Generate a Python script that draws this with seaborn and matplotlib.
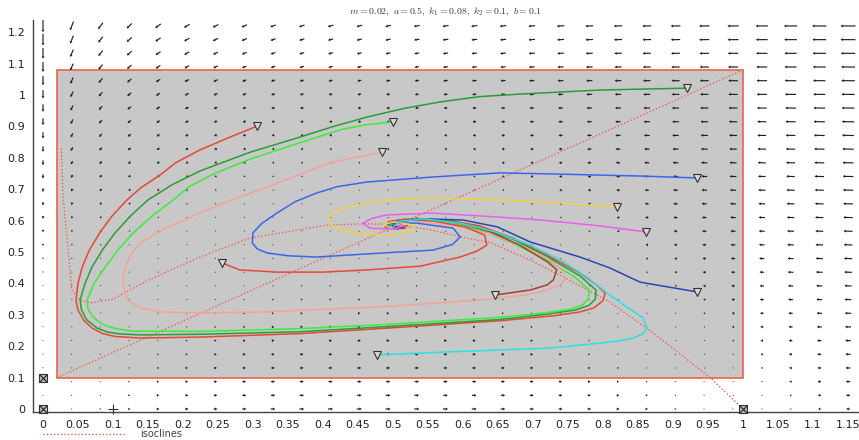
import numpy as np
import pandas as pd
import matplotlib
matplotlib.use('Agg')
import matplotlib.pyplot as plt
from matplotlib.patches import Rectangle
from matplotlib.lines import Line2D
from matplotlib.ticker import MultipleLocator, FormatStrFormatter
import seaborn as sns

sns.set_style('white')
plt.rcParams['font.family'] = ['DejaVu Sans']
plt.rcParams['mathtext.fontset'] = 'cm'

# 模型参数 (标题)
m, a, k1, k2, b = 0.02, 0.5, 0.08, 0.1, 0.1

# ---------------------------------------------------------
# 轨线
# ---------------------------------------------------------
red_outer_x = [0.306, 0.267, 0.224, 0.19, 0.167, 0.14, 0.12, 0.098, 0.081, 0.066, 0.056, 0.05, 0.047,
               0.05, 0.058, 0.07, 0.085, 0.103, 0.139, 0.224, 0.367, 0.481, 0.653, 0.73, 0.767, 0.787,
               0.8, 0.803, 0.791, 0.767, 0.72, 0.671, 0.624, 0.577, 0.529, 0.496, 0.489, 0.507, 0.521]
red_outer_y = [0.901, 0.866, 0.825, 0.785, 0.745, 0.705, 0.666, 0.613, 0.561, 0.505, 0.452, 0.4, 0.347,
               0.315, 0.283, 0.258, 0.24, 0.231, 0.226, 0.229, 0.24, 0.256, 0.281, 0.297, 0.309, 0.322,
               0.345, 0.369, 0.395, 0.433, 0.49, 0.545, 0.583, 0.602, 0.605, 0.596, 0.58, 0.573, 0.586]

dgreen_x = [0.92, 0.796, 0.681, 0.624, 0.567, 0.515, 0.463, 0.415, 0.367, 0.296, 0.224, 0.185, 0.15,
            0.125, 0.103, 0.085, 0.07, 0.06, 0.053, 0.055, 0.062, 0.077, 0.092, 0.11, 0.139, 0.224,
            0.367, 0.481, 0.653, 0.72, 0.76, 0.78, 0.789, 0.79, 0.767, 0.721, 0.674, 0.627, 0.581,
            0.531, 0.499, 0.491, 0.51]
dgreen_y = [1.022, 1.016, 1.003, 0.995, 0.978, 0.957, 0.93, 0.9, 0.866, 0.818, 0.758, 0.715, 0.666,
            0.615, 0.561, 0.507, 0.452, 0.4, 0.347, 0.315, 0.285, 0.258, 0.245, 0.239, 0.236, 0.238,
            0.246, 0.261, 0.285, 0.302, 0.315, 0.33, 0.35, 0.379, 0.424, 0.484, 0.538, 0.576, 0.599,
            0.605, 0.599, 0.583, 0.576]

lgreen_x = [0.5, 0.46, 0.424, 0.367, 0.296, 0.245, 0.21, 0.186, 0.155, 0.129, 0.107, 0.089, 0.073,
            0.063, 0.064, 0.071, 0.08, 0.091, 0.108, 0.129, 0.224, 0.367, 0.481, 0.653, 0.72, 0.753,
            0.771, 0.779, 0.78, 0.76, 0.717, 0.67, 0.624, 0.579, 0.531, 0.5, 0.496, 0.513]
lgreen_y = [0.914, 0.905, 0.889, 0.848, 0.796, 0.75, 0.71, 0.666, 0.613, 0.561, 0.507, 0.452, 0.4,
            0.347, 0.32, 0.295, 0.277, 0.264, 0.254, 0.248, 0.247, 0.256, 0.268, 0.292, 0.307, 0.318,
            0.332, 0.35, 0.379, 0.42, 0.478, 0.529, 0.57, 0.596, 0.602, 0.596, 0.583, 0.58]

salmon_x = [0.484, 0.414, 0.32, 0.268, 0.224, 0.175, 0.139, 0.125, 0.118, 0.114, 0.116, 0.122, 0.139,
            0.167, 0.224, 0.314, 0.481, 0.624, 0.69, 0.72, 0.74, 0.746, 0.741, 0.72, 0.681, 0.639,
            0.589, 0.539, 0.507, 0.503, 0.521]
salmon_y = [0.818, 0.787, 0.707, 0.665, 0.624, 0.575, 0.529, 0.49, 0.452, 0.415, 0.379, 0.345, 0.322,
            0.309, 0.306, 0.309, 0.325, 0.347, 0.363, 0.379, 0.397, 0.414, 0.443, 0.481, 0.522, 0.557,
            0.583, 0.596, 0.589, 0.573, 0.576]

brown_x = [0.646, 0.696, 0.72, 0.729, 0.734, 0.721, 0.681, 0.639, 0.596, 0.546, 0.51, 0.5, 0.517]
brown_y = [0.363, 0.379, 0.395, 0.411, 0.443, 0.468, 0.522, 0.564, 0.592, 0.605, 0.599, 0.583, 0.576]

red_inner_x = [0.256, 0.281, 0.334, 0.4, 0.463, 0.539, 0.596, 0.62, 0.634, 0.631, 0.603, 0.557, 0.517,
               0.493, 0.496, 0.514]
red_inner_y = [0.465, 0.443, 0.436, 0.436, 0.443, 0.455, 0.484, 0.503, 0.522, 0.554, 0.58, 0.599,
               0.605, 0.596, 0.576, 0.576]

blue_x = [0.934, 0.853, 0.739, 0.653, 0.557, 0.463, 0.42, 0.391, 0.36, 0.334, 0.312, 0.3, 0.299,
          0.306, 0.32, 0.35, 0.391, 0.486, 0.557, 0.585, 0.596, 0.586, 0.534, 0.499, 0.489, 0.507]
blue_y = [0.736, 0.742, 0.748, 0.752, 0.739, 0.723, 0.708, 0.688, 0.66, 0.624, 0.59, 0.561, 0.529,
          0.51, 0.497, 0.488, 0.484, 0.497, 0.506, 0.524, 0.548, 0.576, 0.592, 0.592, 0.58, 0.573]

navy_x = [0.934, 0.853, 0.81, 0.767, 0.696, 0.649, 0.6, 0.553, 0.51, 0.499, 0.514]
navy_y = [0.373, 0.404, 0.449, 0.484, 0.532, 0.58, 0.602, 0.605, 0.599, 0.583, 0.576]

yellow_x = [0.82, 0.739, 0.653, 0.557, 0.5, 0.463, 0.43, 0.414, 0.407, 0.412, 0.424, 0.45, 0.486, 0.515,
            0.529, 0.529, 0.5, 0.486, 0.499]
yellow_y = [0.643, 0.656, 0.666, 0.672, 0.667, 0.656, 0.64, 0.624, 0.605, 0.586, 0.572, 0.559, 0.554,
            0.56, 0.57, 0.586, 0.596, 0.586, 0.576]

magenta_x = [0.861, 0.796, 0.71, 0.653, 0.557, 0.491, 0.47, 0.457, 0.467, 0.5, 0.514, 0.507]
magenta_y = [0.564, 0.583, 0.602, 0.611, 0.624, 0.618, 0.607, 0.592, 0.576, 0.573, 0.583, 0.596]

cyan_x = [0.477, 0.581, 0.724, 0.796, 0.825, 0.843, 0.857, 0.863, 0.857, 0.834, 0.806, 0.777, 0.739,
          0.696, 0.646, 0.596, 0.546, 0.51, 0.5]
cyan_y = [0.172, 0.182, 0.194, 0.21, 0.218, 0.226, 0.24, 0.258, 0.29, 0.325, 0.369, 0.42, 0.475,
          0.522, 0.564, 0.592, 0.605, 0.599, 0.58]

# 等倾线 (isoclines)
iso_line_x = [0.02, 1.0]
iso_line_y = [0.10, 1.08]
iso_curve_x = [0.026, 0.029, 0.036, 0.041, 0.053, 0.067, 0.1, 0.129, 0.15, 0.224, 0.296, 0.35, 0.406,
               0.46, 0.5, 0.55, 0.6, 0.639, 0.7, 0.75, 0.81, 0.867, 0.92, 0.953, 1.0]
iso_curve_y = [0.831, 0.666, 0.506, 0.379, 0.347, 0.338, 0.35, 0.385, 0.41, 0.484, 0.545, 0.565, 0.586,
               0.59, 0.588, 0.572, 0.547, 0.53, 0.47, 0.413, 0.34, 0.25, 0.158, 0.1, 0.0]

# 平衡点
eq_x = [0.0, 0.0, 1.0]
eq_y = [0.0, 0.1, 0.0]
plus_x = [0.1]
plus_y = [0.0]

traj = [
    (red_outer_x, red_outer_y, '#e24a33'),
    (dgreen_x, dgreen_y, '#2a9d3a'),
    (lgreen_x, lgreen_y, '#3cec3c'),
    (salmon_x, salmon_y, '#f4a497'),
    (brown_x, brown_y, '#a8402e'),
    (red_inner_x, red_inner_y, '#e8483a'),
    (blue_x, blue_y, '#3a66ee'),
    (navy_x, navy_y, '#2c48b0'),
    (yellow_x, yellow_y, '#f2d24a'),
    (magenta_x, magenta_y, '#ee5cee'),
    (cyan_x, cyan_y, '#2ae0e6'),
]


def field(x, y):
    dx = x * (1 - x) - a * x * y / (x + k1)
    dy = b * y * (1 - y / (x + k2))
    return dx, dy


# ---------------------------------------------------------
# 绘图
# ---------------------------------------------------------
fig = plt.figure(figsize=(8.59, 4.40), dpi=100)
ax = fig.add_axes([33 / 859, 28 / 440, 826 / 859, 392 / 440])
ax.set_xlim(-0.0143, 1.1657)
ax.set_ylim(-0.0096, 1.239)

ax.add_patch(Rectangle((0.02, 0.1), 0.98, 0.98, facecolor='#c8c8c8', edgecolor='#f06050',
                       linewidth=1.2, zorder=1))

# 方向场
grid_x = np.linspace(0, 1.15, 29)
grid_y = np.linspace(0, 1.22, 29)
gx, gy = np.meshgrid(grid_x, grid_y)
u, v = field(gx, gy)
p0 = ax.transData.transform((0, 0))
p1 = ax.transData.transform((1, 1))
px_x, px_y = p1[0] - p0[0], p1[1] - p0[1]
sx, sy = u * px_x, v * px_y
mag = np.hypot(sx, sy)
mag = np.where(mag == 0, 1e-9, mag)
ln = np.clip(15 * (mag / 511), 1.2, 15)
ax.quiver(gx, gy, ln * sx / mag / px_x, ln * sy / mag / px_y, angles='xy', scale_units='xy',
          scale=1, pivot='middle', width=0.0014, headwidth=2.6, headlength=2.2,
          headaxislength=2, color='#1e1e1e', zorder=3)

ax.plot(iso_line_x, iso_line_y, ls=(0, (1, 1.5)), color='#f06050', lw=1, zorder=4)
ax.plot(iso_curve_x, iso_curve_y, ls=(0, (1, 1.5)), color='#f06050', lw=1, zorder=4)

for tx, ty, col in traj:
    df = pd.DataFrame({'x': tx, 'y': ty})
    sns.lineplot(data=df, x='x', y='y', sort=False, estimator=None, color=col, lw=1.1,
                 ax=ax, zorder=5)
    ax.plot(tx[0], ty[0], marker='v', ms=6, mfc='#d8d8d8', mec='#333333', mew=0.8, zorder=6)

ax.scatter(eq_x, eq_y, marker='s', s=40, facecolor='#bbbbbb', edgecolor='#333333', lw=0.8,
           zorder=7, clip_on=False)
ax.scatter(eq_x, eq_y, marker='x', s=26, color='#222222', lw=0.8, zorder=8, clip_on=False)
ax.scatter(plus_x, plus_y, marker='+', s=60, color='#333333', lw=0.8, zorder=8, clip_on=False)

ax.set_xlabel('')
ax.set_ylabel('')
for s in ['top', 'right']:
    ax.spines[s].set_visible(False)
for s in ['left', 'bottom']:
    ax.spines[s].set_color('#444444')
    ax.spines[s].set_linewidth(1)

ax.set_xticks(np.arange(0, 1.151, 0.05))
ax.set_yticks(np.arange(0, 1.201, 0.1))
ax.xaxis.set_minor_locator(MultipleLocator(0.01))
ax.yaxis.set_minor_locator(MultipleLocator(0.025))
ax.xaxis.set_major_formatter(FormatStrFormatter('%g'))
ax.yaxis.set_major_formatter(FormatStrFormatter('%g'))
ax.tick_params(which='major', direction='out', length=4, width=0.8, color='#444444',
               labelsize=8, labelcolor='#222222', pad=1.5)
ax.tick_params(which='minor', direction='out', length=2, width=0.6, color='#444444')

fig.text(445 / 859, 1 - 12 / 440, r'$m = 0.02,\ a = 0.5,\ k_1 = 0.08,\ k_2 = 0.1,\ b = 0.1$',
         ha='center', va='center', fontsize=7, color='#333333')

# 图例
fig.add_artist(Line2D([43 / 859, 125 / 859], [1 - 434 / 440, 1 - 434 / 440],
                      ls=(0, (1, 1.5)), color='#f06050', lw=1))
fig.text(140 / 859, 1 - 434 / 440, 'isoclines', ha='left', va='center', fontsize=7, color='#404058')

fig.savefig('out.png', dpi=100)
